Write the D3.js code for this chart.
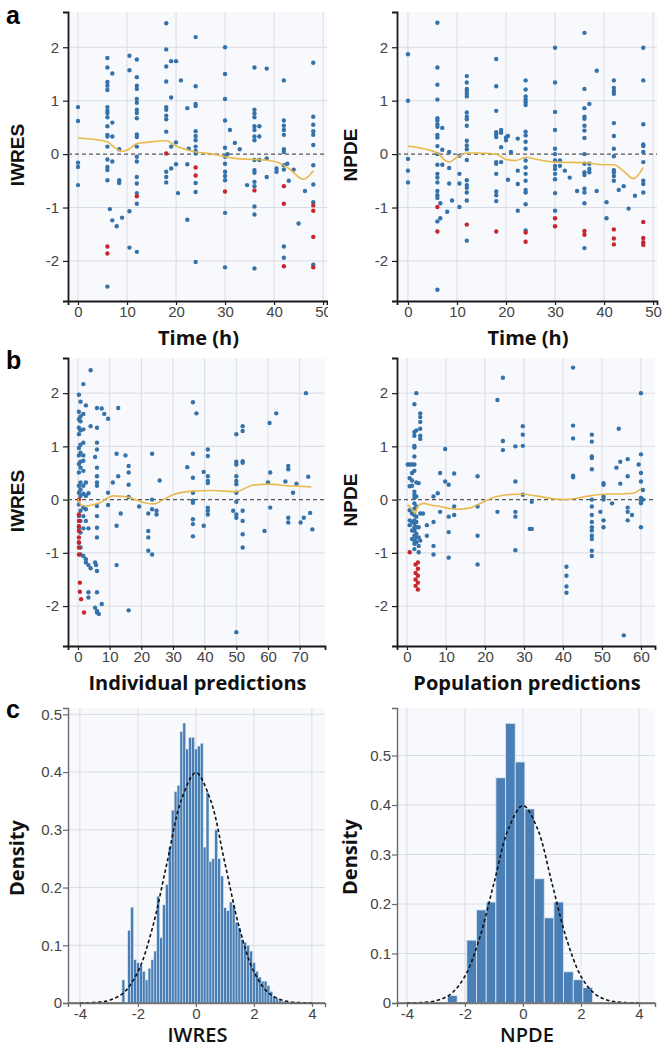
<!DOCTYPE html>
<html>
<head>
<meta charset="utf-8">
<script src="https://cdn.jsdelivr.net/npm/d3@7"></script>
<style>
body { margin: 0; background: #fff; }
svg { display: block; }
</style>
</head>
<body>
<svg id="chart" width="666" height="1057"></svg>
<script>
// ---- data ----
// scatter data: [x, [y values at that x]]

var timeTicks = [0, 10, 20, 30, 40, 50];
var resTicks = [-2, -1, 0, 1, 2];
var ipredTicks = [0, 10, 20, 30, 40, 50, 60, 70];
var predTicks = [0, 10, 20, 30, 40, 50, 60];
var histXTicks = [-4, -2, 0, 2, 4];
var iwresDensTicks = [0, 0.1, 0.2, 0.3, 0.4, 0.5];
var npdeDensTicks = [0, 0.1, 0.2, 0.3, 0.4, 0.5];

// a, IWRES vs time
var iwresTimeBlue = [
  [0, [0.88, 0.62, -0.16, -0.24, -0.58]],
  [6, [1.8, 1.62, 1.35, 1.28, 1.2, 0.88, 0.81, 0.77, 0.69, 0.52, 0.36, 0.33, 0.14, -0.1, -0.24, -0.3, -0.49, -2.48]],
  [6.5, [-1.03]],
  [7, [1.51, 0.59, 0.33, -0.14, -1.24]],
  [7.9, [-1.35]],
  [8.4, [0.09, -0.49, -0.54]],
  [9, [-1.19]],
  [10.5, [1.84, 1.57, -1.07, -1.75]],
  [12, [1.77, 1.44, 1.28, 1.22, 1.03, 0.96, 0.83, 0.77, 0.67, 0.37, 0.32, 0.14, -0.05, -0.14, -0.43, -0.55, -0.73, -0.93, -1.83]],
  [18, [2.45, 1.96, 1.64, 1.36, 0.88, 0.83, 0.72, 0.65, 0.42, -0.33, -0.43, -0.53]],
  [19, [1.74, 1.06, 0.14, -0.27]],
  [20, [1.74, 0.22, -0.19]],
  [20.4, [-0.73]],
  [21, [1.38]],
  [22.3, [0.86, -0.19, -1.23]],
  [22.6, [0.1]],
  [24, [2.19, 1.27, 0.94, 0.9, 0.43, 0.34, 0.26, 0.14, 0.06, 0.01, -0.54, -0.71, -2.02]],
  [30, [2.0, 1.5, 1.03, 0.63, 0.12, -0.05, -0.18, -0.33, -0.41, -0.49, -1.1, -2.12]],
  [30.5, [0]],
  [31, [0.45]],
  [32, [0.21]],
  [33, [0.09]],
  [34.5, [-0.58]],
  [36, [1.62, 0.83, 0.76, 0.69, 0.52, 0.45, 0.33, 0.26, -0.11, -0.3, -0.35, -0.52, -0.6, -0.98, -1.13, -2.14]],
  [37, [0.52, 0.33, -0.11]],
  [38.5, [1.6, -0.08, -0.43]],
  [40.5, [-0.27, -0.33]],
  [42, [1.38, 0.63, 0.53, 0.45, 0.36, 0.09, 0.04, -0.21, -0.29, -1.73, -1.94]],
  [42.7, [-0.18]],
  [43, [-0.5]],
  [44, [-0.29]],
  [45, [-1.3]],
  [46.3, [-0.69]],
  [48, [1.71, 0.7, 0.55, 0.43, 0.36, 0.17, -0.21, -0.57, -0.9, -2.07]]
];
var iwresTimeRed = [
  [6, [-1.73, -1.86]], [12, [-0.79]], [18, [0.01]], [24, [-0.25, -0.4]], [30, [-0.7]],
  [36, [-0.68]], [42, [-0.6, -0.93, -2.1]], [48, [-0.96, -1.06, -1.55, -2.12]]
];
var iwresTimeLoess = [[0, 0.3], [6, 0.23], [7.5, 0.12], [9, 0.05], [10.5, 0.1], [12, 0.2], [14, 0.22], [18, 0.25],
  [20, 0.15], [24, 0.04], [27.5, 0], [30, -0.05], [32, -0.08], [36, -0.1], [39, -0.12], [41, -0.16],
  [43, -0.27], [46, -0.47], [48, -0.31]];

// a, NPDE vs time
var npdeTimeBlue = [
  [0, [1.87, 1.0, -0.09, -0.31, -0.53]],
  [6, [2.46, 1.62, 1.3, 1.02, 0.67, 0.63, 0.56, 0.51, 0.36, 0.31, 0.15, 0, -0.2, -0.37, -0.44, -0.53, -0.69, -0.77, -0.82, -1.26, -2.54]],
  [6.6, [-0.92, -1.2]],
  [7, [0.49, 0.08, -0.2]],
  [8, [-1.08]],
  [8.4, [0.04, -0.26, -0.55]],
  [9, [-0.87]],
  [10.5, [-0.03, -0.37, -0.55, -0.99]],
  [12, [1.46, 1.34, 1.22, 1.18, 1.13, 1.08, 0.78, 0.7, 0.65, 0.53, 0.25, 0.16, 0.09, -0.11, -0.49, -0.58, -0.63, -0.72, -0.87, -1.62]],
  [18, [1.78, 1.27, 0.81, 0.41, 0.37, 0.32, -0.15, -0.18, -0.37, -0.7, -0.77, -0.88]],
  [19, [0.45, 0.4, 0.13, -0.15]],
  [20, [0.26, 0.31]],
  [20.4, [0.34, -0.48]],
  [21, [0.04]],
  [22.4, [0.29, -0.31, -0.56, -1.06]],
  [24, [1.38, 1.21, 1.08, 1.02, 0.97, 0.92, 0.42, 0.35, 0.23, 0.1, -0.12, -0.25, -0.37, -0.5, -0.67, -0.72, -0.94, -1.43]],
  [30, [1.99, 1.34, 0.79, 0.45, 0.1, 0, -0.12, -0.22, -0.28, -0.37, -0.47, -0.73, -1.06]],
  [31, [-0.12, -0.22]],
  [32, [-0.31]],
  [33, [-0.44]],
  [34.5, [-0.69]],
  [36, [2.27, 1.22, 0.86, 0.7, 0.66, 0.53, 0.44, 0.3, 0, -0.18, -0.34, -0.39, -0.65, -0.72, -0.92, -1.76]],
  [37, [0.94, -0.18, -0.28, -0.34]],
  [38.5, [1.56, -0.69]],
  [40.5, [-0.9, -1.2]],
  [42, [1.38, 1.24, 1.18, 1.13, 0.58, 0.34, 0.1, -0.04, -0.3, -0.34, -0.41, -0.5]],
  [43, [-0.67]],
  [44, [-0.6]],
  [45, [-1.02]],
  [46.3, [-0.78]],
  [48, [1.99, 1.38, 0.56, 0.18, 0.15, 0.04, -0.15, -0.5, -0.56, -0.72]]
];
var npdeTimeRed = [
  [6, [-0.99, -1.45]], [12, [-1.32]], [18, [-1.45]], [24, [-1.47, -1.64]], [30, [-1.2, -1.35]],
  [36, [-1.44, -1.51]], [42, [-1.41, -1.58, -1.69]], [48, [-1.27, -1.57, -1.65, -1.7]]
];
var npdeTimeLoess = [[0, 0.15], [6, 0.02], [7.6, -0.12], [8.4, -0.15], [10, -0.06], [12, 0.02], [14, 0.02], [18, 0],
  [20, -0.1], [22, -0.12], [24, -0.06], [26.3, -0.1], [30, -0.15], [36, -0.16], [40, -0.2], [42, -0.2],
  [44, -0.32], [46, -0.46], [48, -0.25]];

// b, IWRES vs individual predictions
var iwresIpredBlue = [
  [0.3, [1.97, 1.65, 1.51, 1.35, 1.23, 0.97, 0.83, 0.67, 0.51, 0.26, 0.13, -0.09, -0.31, -0.53, -0.81]],
  [0.8, [1.84, 1.56, 1.47, 1.3, 1.03, 0.88, 0.71, 0.6, 0.32, 0.19, 0.07, -0.21, -0.4, -0.62, -0.9, -1.03]],
  [1.7, [2.17, 1.61, 1.32, 1.07, 0.83, 0.73, 0.54, 0.26, 0.11, -0.15, -0.31, -0.54, -1.06]],
  [2.5, [1.77, 0.32, 0.07, -0.18, -0.4, -1.12, -1.18]],
  [3.3, [0.12, -0.54, -1.23, -1.74, -1.84]],
  [4, [2.43, 1.38, -1.29]],
  [5.4, [0.8, -1.18, -2.03]],
  [5.7, [-1.23]],
  [6, [1.72, 1.35, 1.07, 0.94, 0.6, 0.44, 0.32, 0.26, -0.12, -0.31, -0.53, -0.71, -1.34, -1.74, -2.09, -2.12]],
  [6.6, [-2.15]],
  [7.5, [1.71, -1.96]],
  [8.3, [1.61]],
  [9.5, [1.52, 0.13, -0.1]],
  [11, [0.32]],
  [12.2, [0.86, -0.49, -1.23]],
  [12.7, [1.72, 0.44]],
  [13.5, [-0.26]],
  [15, [0.83]],
  [16, [0.63, 0.51, 0.28, 0.05, -2.08]],
  [19.3, [-0.13]],
  [22.2, [-0.26, -0.59, -0.71, -0.96]],
  [23.4, [0.86, 0, -0.18, -1.03]],
  [24.8, [-0.21, -0.28]],
  [25.8, [0.36]],
  [34.5, [0.61]],
  [36.3, [1.83, 0.86, 0.41, 0.13, -0.02, -0.06, -0.37, -0.46, -0.69]],
  [37.4, [1.62]],
  [39.7, [0.52, -0.49]],
  [41, [0.94, 0.82, 0.44, 0.35, 0.31, -0.15, -0.21, -0.28]],
  [49, [-0.21]],
  [50, [1.23, 0.71, 0.66, 0.44, 0.35, 0.29, 0.13, -0.04, -0.28, -0.34, -2.49]],
  [52, [1.38, 1.29, 0.72, 0.69, -0.21, -0.4, -0.65, -0.9]],
  [58.9, [-0.59]],
  [60, [0.32]],
  [60.5, [1.44]],
  [60.7, [0.51, -0.15]],
  [62.6, [1.62]],
  [65.5, [0.34]],
  [66.4, [0.63, 0.57, -0.34, -0.43]],
  [67.9, [0.13]],
  [69, [0.3]],
  [70.3, [-0.43]],
  [71.3, [-0.34]],
  [72, [2.0]],
  [72.7, [0.43]],
  [73.3, [-0.25]],
  [74, [-0.56]]
];
var iwresIpredRed = [
  [0.3, [0, -0.28, -0.4, -0.5, -0.59, -0.71, -0.8, -0.9, -1.03]],
  [0.6, [-1.56, -1.73]], [1, [-1.87]], [1.9, [-2.12]]
];
var iwresIpredLoess = [[0, 0.01], [1, -0.1], [2.7, -0.12], [5, -0.09], [6.9, -0.06], [9, 0.02], [11.1, 0.07], [14, 0.06],
  [16.4, 0.04], [18.5, -0.01], [21, -0.06], [23.8, -0.08], [27, 0], [30, 0.09], [36.3, 0.16], [42.6, 0.17],
  [50, 0.15], [55.2, 0.27], [60.5, 0.29], [65.8, 0.26], [73.7, 0.24]];

// b, NPDE vs population predictions
var npdePredBlue = [
  [0.2, [0.66]],
  [0.7, [0.66, 0.4, 0.25, -0.2, -0.39, -0.48]],
  [1.3, [0.66, 0.5, 0.36, 0.26, -0.26, -0.42, -0.58, -0.74]],
  [1.9, [1.79, 1.27, 1.2, 1.01, 0.98, 0.81, 0.66, 0.54, 0.15, 0.09, 0.03, -0.07, -0.17, -0.29, -0.39, -0.45, -0.52, -0.58, -0.68, -0.77, -0.83, -0.93]],
  [2.4, [2.0, 1.3, 0.32, 0.06, -0.13, -0.32, -0.42, -0.52, -0.64, -0.71, -0.8]],
  [3, [0.31, -0.52, -0.71, -0.87, -0.99]],
  [3.4, [1.62, 1.55, 1.46, 1.33, 1.2, 1.14, -0.26, -0.77]],
  [4.1, [-0.26]],
  [5.1, [-0.48, -0.68]],
  [6.8, [0.06, -0.42, -0.87, -1.03]],
  [7.9, [0.12]],
  [8.5, [0.5, -0.23]],
  [9.8, [0.95, 0.34]],
  [10.7, [0.28, -0.32, -0.61, -1.09]],
  [12.1, [0.49, -0.13, -0.29]],
  [18.1, [0.44, -0.13, -0.68, -1.22]],
  [23.2, [1.87, -0.23]],
  [24.6, [2.29, 1.1, 0.93]],
  [27.8, [1.0, 0.34, -0.23, -0.32, -0.95]],
  [29.7, [1.38, 1.22, 1.01, 0.09]],
  [31.5, [-0.55]],
  [32, [-0.55, -0.04]],
  [40.9, [-1.26, -1.43, -1.63, -1.75]],
  [42.6, [2.48, 1.39, 1.15, 0.45, 0.42]],
  [47.4, [1.22, 1.09, 0.81, 0.78, 0.57, 0, -0.13, -0.29, -0.42, -0.52, -0.58, -0.68, -0.74, -0.96, -1.06]],
  [49.6, [-0.23]],
  [50.4, [0.31, 0.28, 0.06, 0, -0.39, -0.52]],
  [52.6, [-0.07]],
  [53.7, [0.6]],
  [54.3, [1.33]],
  [54.7, [0.71, 0.3]],
  [55.6, [-2.55]],
  [56.6, [0.76, 0.44, -0.15, -0.23, -0.39]],
  [57.7, [-0.29]],
  [59.4, [0.66]],
  [60, [2.0, 0.85, 0.5, 0.34, 0.03, -0.04, -0.07, -0.52]],
  [60.5, [0.18, 0]]
];
var npdePredRed = [
  [0.7, [-0.99]], [2.2, [-1.22, -1.38, -1.5, -1.62]], [2.8, [-1.18, -1.3, -1.43, -1.56, -1.69]]
];
var npdePredLoess = [[0.2, -0.1], [1.5, -0.2], [2.1, -0.26], [2.7, -0.13], [4.3, -0.07], [6, -0.1], [8.5, -0.13],
  [12.8, -0.18], [16, -0.16], [18, -0.1], [23, 0.06], [28, 0.1], [30, 0.1], [33, 0.07], [40, 0], [47, 0.07],
  [50.4, 0.1], [55.6, 0.11], [58, 0.12], [60, 0.2]];

// c, histograms (density per bin)
var iwresBinStart = -2.55, iwresBinWidth = 0.1;
var iwresDensity = [0.04, 0, 0.126, 0.166, 0.075, 0.07, 0.065, 0.055, 0.04, 0.06, 0.075, 0.09, 0.185, 0.113,
  0.17, 0.205, 0.27, 0.334, 0.366, 0.377, 0.47, 0.485, 0.44, 0.46, 0.46, 0.44, 0.445, 0.45, 0.27, 0.365,
  0.245, 0.25, 0.3, 0.25, 0.22, 0.165, 0.16, 0.175, 0.17, 0.14, 0.13, 0.11, 0.105, 0.1, 0.09, 0.07, 0.055,
  0.045, 0.038, 0.038, 0.03, 0.02, 0.012, 0.008, 0.005, 0.003];
var npdeBinStart = -2.6, npdeBinWidth = 1 / 3;
var npdeDensity = [0.015, 0, 0.127, 0.188, 0.204, 0.455, 0.565, 0.487, 0.392, 0.251, 0.172, 0.204, 0.063, 0.047, 0.031];

// reference normal density (dashed curve)
var normX = [-4, -3.5, -3, -2.5, -2, -1.5, -1, -0.5, 0, 0.5, 1, 1.5, 2, 2.5, 3, 3.5, 4];
var normY = [0.0001, 0.0009, 0.0044, 0.0175, 0.054, 0.13, 0.242, 0.352, 0.399, 0.352, 0.242, 0.13, 0.054, 0.0175, 0.0044, 0.0009, 0.0001];

// ---- drawing ----
var svg = d3.select("#chart");
var blue = "#3572aa", red = "#c9252c", gold = "#e8b746", histBlue = "#4a7fb6";
var tickFont = "'Liberation Sans', Arial, sans-serif";
var titleFont = "'Open Sans', Lato, sans-serif";

svg.append("clipPath").attr("id", "leftcol")
  .append("rect").attr("x", 0).attr("y", 0).attr("width", 328).attr("height", 1057);

function expand(groups) {
  var out = [];
  groups.forEach(function(g) {
    g[1].forEach(function(v) { out.push([g[0], v]); });
  });
  return out;
}

function drawFrame(p) {
  var g = svg.append("g");
  if (p.clip) g.attr("clip-path", "url(#leftcol)");
  var b = p.box;
  var x = d3.scaleLinear().domain(p.xd).range([b[0], b[2]]);
  var y = d3.scaleLinear().domain(p.yd).range([b[3], b[1]]);
  var axCol = p.hist ? "#6b6b6b" : "#1a1a1a";

  g.append("rect").attr("x", b[0]).attr("y", b[1]).attr("width", b[2] - b[0]).attr("height", b[3] - b[1])
    .attr("fill", "#f8f9fc");

  //grid lines
  g.selectAll(".vgrid").data(p.xt).enter().append("line").attr("class", "vgrid")
    .attr("x1", function(d) { return x(d); }).attr("x2", function(d) { return x(d); })
    .attr("y1", b[1]).attr("y2", b[3]).attr("stroke", "#dadce4").attr("stroke-width", 1);
  g.selectAll(".hgrid").data(p.yt.filter(function(d) { return d != 0; })).enter().append("line").attr("class", "hgrid")
    .attr("x1", b[0]).attr("x2", b[2])
    .attr("y1", function(d) { return y(d); }).attr("y2", function(d) { return y(d); })
    .attr("stroke", "#dadce4").attr("stroke-width", 1);

  var yAxis = d3.axisLeft(y).tickValues(p.yt).tickSize(5).tickPadding(p.hist ? 1 : 4)
    .tickFormat(function(d) { return String(d); });
  var xAxis = d3.axisBottom(x).tickValues(p.xt).tickSize(4).tickPadding(1)
    .tickFormat(function(d) { return String(d); });

  var ya = g.append("g").attr("transform", "translate(" + b[0] + ",0)").call(yAxis);
  var xa = g.append("g").attr("transform", "translate(0," + b[3] + ")").call(xAxis);
  [ya, xa].forEach(function(a) {
    a.select(".domain").attr("stroke", axCol).attr("stroke-width", p.hist ? 1.4 : 1.8);
    a.selectAll(".tick line").attr("stroke", axCol).attr("stroke-width", 1.2);
    a.selectAll(".tick text").attr("fill", "#444").style("font-family", tickFont).style("font-size", "15px");
  });

  //axis titles
  g.append("text").attr("x", (b[0] + b[2]) / 2 + 1).attr("y", p.xlabY)
    .attr("text-anchor", "middle").style("font-family", titleFont).style("font-weight", p.hist ? 600 : 700)
    .style("font-size", p.xlabSize + "px").attr("fill", "#111").text(p.xlab);
  g.append("text").attr("transform", "translate(" + p.ylabX + "," + p.ylabY + ") rotate(-90)")
    .attr("text-anchor", "middle").attr("dy", "0.35em")
    .style("font-family", p.hist ? titleFont : tickFont).style("font-weight", "bold")
    .style("font-size", p.ylabSize + "px").attr("fill", "#111").text(p.ylab);

  return { g: g, x: x, y: y };
}

function drawScatter(p) {
  var f = drawFrame(p);
  var b = p.box;
  // zero reference line
  f.g.append("line").attr("x1", b[0]).attr("x2", b[2]).attr("y1", f.y(0)).attr("y2", f.y(0))
    .attr("stroke", "#555").attr("stroke-width", 1.3).attr("stroke-dasharray", "4,3");

  var line = d3.line().x(function(d) { return f.x(d[0]); }).y(function(d) { return f.y(d[1]); })
    .curve(d3.curveMonotoneX);

  var pts = expand(p.blue).map(function(d) { return { p: d, c: blue }; })
    .concat(expand(p.red).map(function(d) { return { p: d, c: red }; }));
  console.log(p.ylab, pts.length, "points");

  f.g.selectAll(".dot").data(pts).enter().append("circle").attr("class", "dot")
    .attr("cx", function(d) { return f.x(d.p[0]); })
    .attr("cy", function(d) { return f.y(d.p[1]); })
    .attr("r", 2.2).attr("fill", function(d) { return d.c; });

  f.g.append("path").datum(p.loess).attr("d", line).attr("fill", "none")
    .attr("stroke", gold).attr("stroke-width", 1.6).attr("opacity", 0.95);
}

function drawHist(p) {
  var f = drawFrame(p);
  var bars = p.dens.map(function(d, i) {
    return { x0: p.start + i * p.width, x1: p.start + (i + 1) * p.width, v: d };
  }).filter(function(d) { return d.v > 0; });

  f.g.selectAll(".bar").data(bars).enter().append("rect").attr("class", "bar")
    .attr("x", function(d) { return f.x(d.x0); })
    .attr("width", function(d) { return f.x(d.x1) - f.x(d.x0); })
    .attr("y", function(d) { return f.y(d.v); })
    .attr("height", function(d) { return f.y(0) - f.y(d.v); })
    .attr("fill", histBlue).attr("stroke", "#dfe8f3").attr("stroke-width", p.width < 0.2 ? 0.5 : 0.8);

  var curve = d3.line().x(function(d, i) { return f.x(normX[i]); }).y(function(d) { return f.y(d); })
    .curve(d3.curveCatmullRom);
  f.g.append("path").datum(normY).attr("d", curve).attr("fill", "none")
    .attr("stroke", "#111").attr("stroke-width", 1.6).attr("stroke-dasharray", "3.5,2.5");

  // redraw the baseline over the bars
  f.g.append("line").attr("x1", p.box[0]).attr("x2", p.box[2]).attr("y1", f.y(0)).attr("y2", f.y(0))
    .attr("stroke", "#6b6b6b").attr("stroke-width", 1.4);
}

drawScatter({ box: [68, 12, 327, 301], xd: [-2.04, 50.8], yd: [-2.75, 2.66], xt: timeTicks, yt: resTicks, clip: true,
  xlab: "Time (h)", xlabY: 345, xlabSize: 20, ylab: "IWRES", ylabX: 17, ylabY: 155, ylabSize: 19,
  blue: iwresTimeBlue, red: iwresTimeRed, loess: iwresTimeLoess });
drawScatter({ box: [397, 12, 657, 301], xd: [-2.24, 50.8], yd: [-2.75, 2.66], xt: timeTicks, yt: resTicks,
  xlab: "Time (h)", xlabY: 345, xlabSize: 20, ylab: "NPDE", ylabX: 350, ylabY: 155, ylabSize: 19,
  blue: npdeTimeBlue, red: npdeTimeRed, loess: npdeTimeLoess });
drawScatter({ box: [68, 358, 325, 646], xd: [-3.15, 78], yd: [-2.75, 2.66], xt: ipredTicks, yt: resTicks, clip: true,
  xlab: "Individual predictions", xlabY: 690, xlabSize: 20, ylab: "IWRES", ylabX: 17, ylabY: 501, ylabSize: 19,
  blue: iwresIpredBlue, red: iwresIpredRed, loess: iwresIpredLoess });
drawScatter({ box: [397, 358, 655, 646], xd: [-2.56, 63.6], yd: [-2.75, 2.66], xt: predTicks, yt: resTicks,
  xlab: "Population predictions", xlabY: 690, xlabSize: 20, ylab: "NPDE", ylabX: 350, ylabY: 500, ylabSize: 19,
  blue: npdePredBlue, red: npdePredRed, loess: npdePredLoess });
drawHist({ box: [68, 708, 325, 1003], xd: [-4.41, 4.45], yd: [0, 0.511], xt: histXTicks, yt: iwresDensTicks, hist: true, clip: true,
  xlab: "IWRES", xlabY: 1042, xlabSize: 20, ylab: "Density", ylabX: 17, ylabY: 858, ylabSize: 20,
  dens: iwresDensity, start: iwresBinStart, width: iwresBinWidth });
drawHist({ box: [397, 708, 655, 1003], xd: [-4.34, 4.55], yd: [0, 0.596], xt: histXTicks, yt: npdeDensTicks, hist: true,
  xlab: "NPDE", xlabY: 1042, xlabSize: 20, ylab: "Density", ylabX: 350, ylabY: 857, ylabSize: 20,
  dens: npdeDensity, start: npdeBinStart, width: npdeBinWidth });

//panel letters
svg.selectAll(".letter").data([["a", 24], ["b", 369], ["c", 718]]).enter().append("text").attr("class", "letter")
  .attr("x", 6).attr("y", function(d) { return d[1]; })
  .style("font-family", tickFont).style("font-weight", "bold").style("font-size", "25px")
  .attr("fill", "#000").text(function(d) { return d[0]; });
</script>
</body>
</html>
